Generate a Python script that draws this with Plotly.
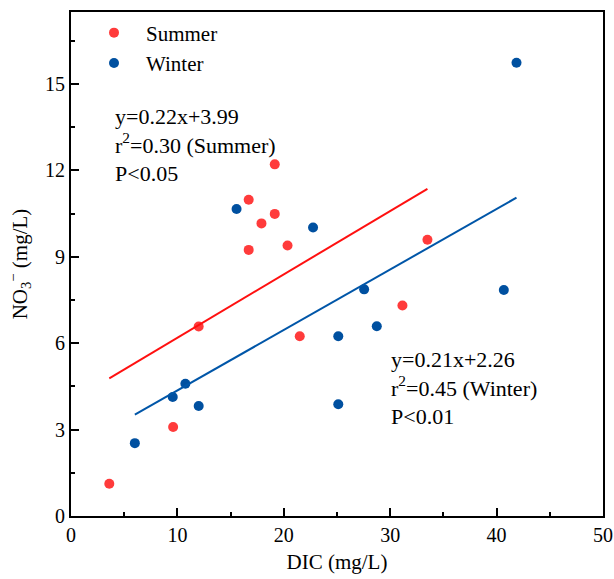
import plotly.graph_objects as go

# Data
summer_dic = [3.6, 9.6, 12.0, 21.5, 16.7, 16.7, 17.9, 19.15, 19.15, 20.35, 33.5, 31.15]
summer_no3 = [1.12, 3.09, 6.58, 6.24, 10.98, 9.24, 10.16, 12.21, 10.49, 9.39, 9.59, 7.31]
winter_dic = [6.0, 9.56, 10.75, 12.0, 15.56, 22.75, 27.55, 41.87, 40.68, 25.12, 28.74, 25.12]
winter_no3 = [2.53, 4.13, 4.59, 3.82, 10.66, 10.02, 7.87, 15.74, 7.85, 6.24, 6.59, 3.88]

summer_fit = (0.22, 3.99)
winter_fit = (0.21, 2.26)

summer_text = "y=0.22x+3.99<br>r<sup>2</sup>=0.30 (Summer)<br>P<0.05"
winter_text = "y=0.21x+2.26<br>r<sup>2</sup>=0.45 (Winter)<br>P<0.01"

RED = "#FF3B3B"
BLUE = "#0050A0"
RED_LINE = "#FF1010"
BLUE_LINE = "#0056A8"
FONT = "Liberation Serif"

fig = go.Figure()

fig.add_trace(go.Scatter(x=summer_dic, y=summer_no3, mode="markers", name="Summer",
                         marker=dict(color=RED, size=10)))
fig.add_trace(go.Scatter(x=winter_dic, y=winter_no3, mode="markers", name="Winter",
                         marker=dict(color=BLUE, size=10)))

sx = [min(summer_dic), max(summer_dic)]
wx = [min(winter_dic), max(winter_dic)]
fig.add_trace(go.Scatter(x=sx, y=[summer_fit[0] * v + summer_fit[1] for v in sx], mode="lines",
                         line=dict(color=RED_LINE, width=2), showlegend=False, hoverinfo="skip"))
fig.add_trace(go.Scatter(x=wx, y=[winter_fit[0] * v + winter_fit[1] for v in wx], mode="lines",
                         line=dict(color=BLUE_LINE, width=2), showlegend=False, hoverinfo="skip"))

axis_common = dict(
    showgrid=False, zeroline=False, showline=True, linecolor="black", linewidth=2,
    mirror=True, ticks="inside", ticklen=8, tickwidth=2, tickcolor="black",
    tickfont=dict(family=FONT, size=20, color="black"),
)

fig.update_xaxes(range=[0, 50], tick0=0, dtick=10,
                 minor=dict(ticks="inside", ticklen=4, tickwidth=2, dtick=5, tickcolor="black"),
                 title=dict(text="DIC (mg/L)", font=dict(family=FONT, size=21, color="black"), standoff=9),
                 **axis_common)
fig.update_yaxes(range=[0, 17.5], tick0=0, dtick=3,
                 minor=dict(ticks="inside", ticklen=4, tickwidth=2, dtick=1.5, tickcolor="black"),
                 title=dict(text="NO<sub>3</sub><sup>−</sup> (mg/L)", font=dict(family=FONT, size=21, color="black"), standoff=12),
                 **axis_common)

fig.add_annotation(x=0.079, y=0.737, xref="paper", yref="paper", text=summer_text, showarrow=False,
                   xanchor="left", yanchor="middle", align="left",
                   font=dict(family=FONT, size=22, color="black"))
fig.add_annotation(x=0.597, y=0.2535, xref="paper", yref="paper", text=winter_text, showarrow=False,
                   xanchor="left", yanchor="middle", align="left",
                   font=dict(family=FONT, size=22, color="black"))

fig.update_layout(
    width=614, height=579,
    margin=dict(l=71, r=11, t=12, b=63, autoexpand=False),
    plot_bgcolor="white", paper_bgcolor="white",
    font=dict(family=FONT, size=20, color="black"),
    legend=dict(x=0.0207, y=0.999, xanchor="left", yanchor="top", bgcolor="rgba(0,0,0,0)",
                font=dict(family=FONT, size=21, color="black"), itemwidth=54, tracegroupgap=0),
)

fig.write_html("out.html", config={"displayModeBar": False},
               post_script="document.body.style.margin='0';")
